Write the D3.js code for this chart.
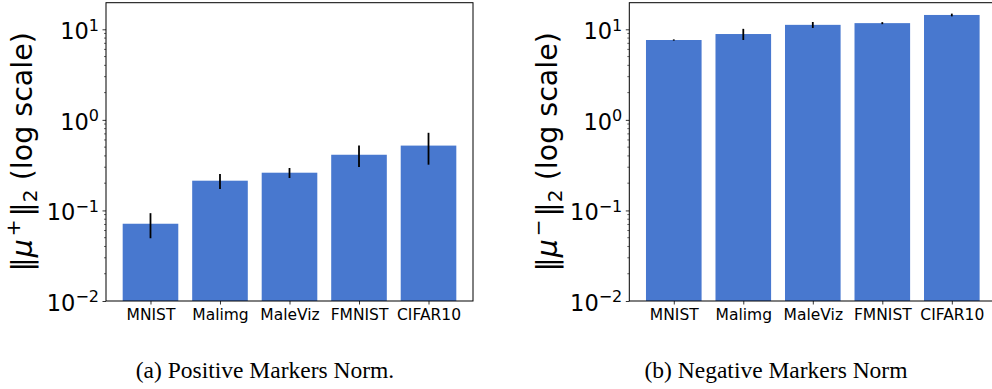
<!DOCTYPE html>
<html>
<head>
<meta charset="utf-8">
<script src="https://cdn.jsdelivr.net/npm/d3@7"></script>
<style>
  html, body { margin: 0; padding: 0; background: #fff; }
  svg { display: block; }
</style>
</head>
<body>
<svg id="chart" width="992" height="389"></svg>
<script>
// ---- data ----
const categories = ["MNIST", "Malimg", "MaleViz", "FMNIST", "CIFAR10"];
const posValues = [0.0713, 0.213, 0.261, 0.412, 0.52];
const posErrors = [0.022, 0.040, 0.033, 0.11, 0.20];
const negValues = [7.62, 8.87, 11.2, 11.7, 14.4];
const negErrors = [0.12, 1.25, 0.85, 0.30, 0.50];
const yTickValues = [0.01, 0.1, 1, 10];
const yTickExponents = ["\u22122", "\u22121", "0", "1"];
const captions = ["(a) Positive Markers Norm.", "(b) Negative Markers Norm"];
const labelSigns = ["+", "\u2212"];

// ---- layout ----
const svg = d3.select("#chart");
const W = 367, H = 298.3, TOP = 2.7;
const panels = [
  { left: 106, values: posValues, errors: posErrors, caption: captions[0], sign: labelSigns[0], labelX: 32, capX: 265 },
  { left: 629.3, values: negValues, errors: negErrors, caption: captions[1], sign: labelSigns[1], labelX: 557, capX: 776 }
];
const barColor = "#4878CF";
const sansFont = "'DejaVu Sans', sans-serif";

panels.forEach(p => {
  const g = svg.append("g").attr("transform", `translate(${p.left},${TOP})`);
  const x = d3.scaleLinear().domain([-0.64, 4.64]).range([0, W]);
  const y = d3.scaleLog().domain([0.01, 19.67]).range([H, 0]);

  // bars
  g.selectAll("rect.bar").data(p.values).enter().append("rect")
    .attr("class", "bar")
    .attr("x", (d, i) => x(i - 0.4))
    .attr("width", (d, i) => x(i + 0.4) - x(i - 0.4))
    .attr("y", d => y(d))
    .attr("height", d => H - y(d))
    .attr("fill", barColor);

  // error bars
  g.selectAll("line.err").data(p.values).enter().append("line")
    .attr("class", "err")
    .attr("x1", (d, i) => x(i)).attr("x2", (d, i) => x(i))
    .attr("y1", (d, i) => y(d + p.errors[i]))
    .attr("y2", (d, i) => y(Math.max(d - p.errors[i], 0.0101)))
    .attr("stroke", "#000").attr("stroke-width", 1.8);

  // y axis: minor ticks
  const minor = [];
  for (let e = -2; e <= 1; e++) for (let m = 2; m <= 9; m++) {
    const v = m * Math.pow(10, e);
    if (v <= 19.67) minor.push(v);
  }
  g.selectAll("line.minor").data(minor).enter().append("line")
    .attr("x1", 0).attr("x2", -2)
    .attr("y1", d => y(d)).attr("y2", d => y(d))
    .attr("stroke", "#000").attr("stroke-width", 0.6);

  // y axis: major ticks and labels
  const yAxis = d3.axisLeft(y).tickValues(yTickValues).tickSize(3.5).tickFormat("");
  const ya = g.append("g").call(yAxis);
  ya.select(".domain").remove();
  ya.selectAll(".tick line").attr("stroke", "#000").attr("stroke-width", 0.8);
  yTickValues.forEach((v, i) => {
    const t = g.append("text")
      .attr("x", -7).attr("y", y(v) + 10)
      .attr("text-anchor", "end")
      .attr("font-family", sansFont).attr("fill", "#000");
    t.append("tspan").attr("font-size", 22.5).text("10");
    t.append("tspan").attr("font-size", 16).attr("dy", -8.5).text(yTickExponents[i]);
  });

  // x axis
  const xAxis = d3.axisBottom(x).tickValues(d3.range(categories.length))
    .tickSize(3.5).tickFormat(i => categories[i]).tickPadding(4);
  const xa = g.append("g").attr("transform", `translate(0,${H})`).call(xAxis);
  xa.select(".domain").remove();
  xa.selectAll(".tick line").attr("stroke", "#000").attr("stroke-width", 0.8);
  xa.selectAll(".tick text").attr("font-family", sansFont).attr("font-size", 15.5)
    .attr("fill", "#000").attr("dy", "0.71em");

  // spines
  g.append("rect").attr("x", 0).attr("y", 0).attr("width", W).attr("height", H)
    .attr("fill", "none").attr("stroke", "#000").attr("stroke-width", 1);

  // y label
  const lab = svg.append("text")
    .attr("transform", `translate(${p.labelX},${TOP + H / 2}) rotate(-90)`)
    .attr("text-anchor", "middle")
    .attr("font-family", sansFont).attr("font-size", 28.5).attr("fill", "#000");
  lab.append("tspan").text("\u2016");
  lab.append("tspan").attr("font-style", "italic").text("\u03bc");
  lab.append("tspan").attr("font-size", 20).attr("dx", 3).attr("dy", -12).text(p.sign);
  lab.append("tspan").attr("dx", 3).attr("dy", 12).text("\u2016");
  lab.append("tspan").attr("font-size", 20).attr("dy", 5).text("2");
  lab.append("tspan").attr("dy", -5).text(" (log scale)");

  // caption
  svg.append("text")
    .attr("x", p.capX).attr("y", 378)
    .attr("text-anchor", "middle")
    .attr("font-family", "'Liberation Serif', 'Times New Roman', serif")
    .attr("font-size", 23.5).attr("fill", "#000")
    .text(p.caption);
});
</script>
</body>
</html>
